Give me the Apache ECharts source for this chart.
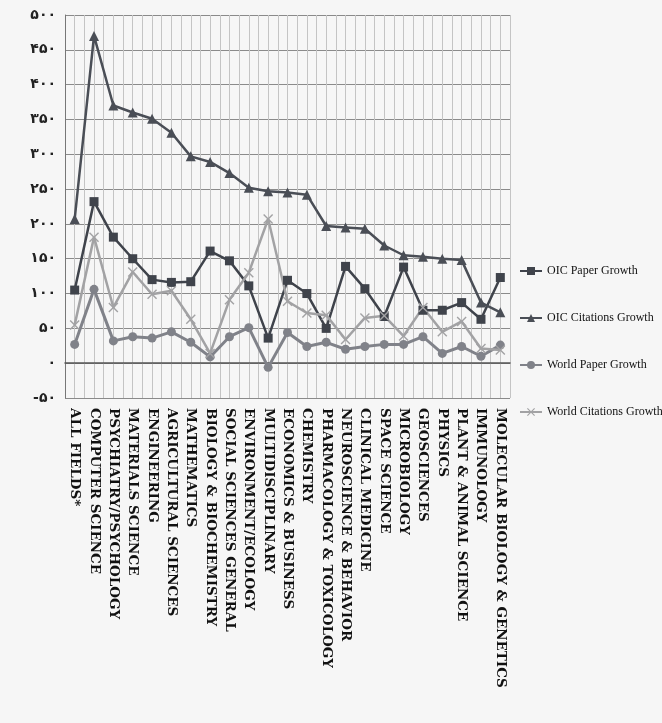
<!DOCTYPE html>
<html>
<head>
<meta charset="utf-8">
<script src="https://cdn.jsdelivr.net/npm/echarts@6/dist/echarts.min.js"></script>
<style>html,body{margin:0;padding:0;background:#f6f6f6;}#c{width:662px;height:723px;}</style>
</head>
<body>
<div id="c"></div>
<script>
const categories = ['ALL FIELDS*','COMPUTER SCIENCE','PSYCHIATRY/PSYCHOLOGY','MATERIALS SCIENCE','ENGINEERING','AGRICULTURAL SCIENCES','MATHEMATICS','BIOLOGY & BIOCHEMISTRY','SOCIAL SCIENCES GENERAL','ENVIRONMENT/ECOLOGY','MULTIDISCIPLINARY','ECONOMICS & BUSINESS','CHEMISTRY','PHARMACOLOGY & TOXICOLOGY','NEUROSCIENCE & BEHAVIOR','CLINICAL MEDICINE','SPACE SCIENCE','MICROBIOLOGY','GEOSCIENCES','PHYSICS','PLANT & ANIMAL SCIENCE','IMMUNOLOGY','MOLECULAR BIOLOGY & GENETICS'];
const oicPaperGrowth =     [105, 232, 181, 150, 120, 116, 117, 161, 147, 111, 36, 119, 100, 50, 139, 107, 67, 138, 76, 76, 87, 63, 123];
const oicCitationsGrowth = [207, 470, 370, 360, 351, 331, 297, 289, 273, 252, 247, 245, 242, 197, 195, 193, 169, 155, 153, 150, 148, 87, 73];
const worldPaperGrowth =   [27, 106, 32, 38, 36, 45, 30, 9, 38, 51, -6, 44, 24, 30, 20, 24, 27, 27, 38, 14, 24, 10, 26];
const worldCitationsGrowth = [55, 181, 80, 131, 99, 104, 63, 14, 91, 130, 207, 89, 72, 69, 34, 65, 68, 39, 80, 45, 60, 21, 19];
const seriesNames = ['OIC Paper Growth','OIC Citations Growth','World Paper Growth','World Citations Growth'];
const yTickValues = [-50, 0, 50, 100, 150, 200, 250, 300, 350, 400, 450, 500];
const yTickLabels = ['-۵۰','۰','۵۰','۱۰۰','۱۵۰','۲۰۰','۲۵۰','۳۰۰','۳۵۰','۴۰۰','۴۵۰','۵۰۰'];

const minorCats = [];
for (let i = 0; i < categories.length * 2; i++) minorCats.push('m' + i);

const xMark = 'path://M0,1L1,0L5,4L9,0L10,1L6,5L10,9L9,10L5,6L1,10L0,9L4,5Z';
const chart = echarts.init(document.getElementById('c'));
const mk = (name, data, color, symbol, size, w) => ({
  name, type: 'line', data, xAxisIndex: 0,
  symbol, symbolSize: size,
  lineStyle: { color, width: w },
  itemStyle: { color },
  emphasis: { disabled: true },
  animation: false
});
chart.setOption({
  backgroundColor: '#f6f6f6',
  animation: false,
  grid: { left: 65, right: 152, top: 15, bottom: 325, containLabel: false },
  legend: {
    orient: 'vertical', left: 514, top: 260, itemGap: 35,
    itemWidth: 22, itemHeight: 10,
    textStyle: { fontFamily: 'Liberation Serif', fontSize: 12, color: '#111' },
    data: seriesNames
  },
  xAxis: [{
    type: 'category', data: categories, boundaryGap: true,
    axisLine: { show: true, onZero: true, lineStyle: { color: '#555', width: 1.5 } },
    axisTick: { show: false },
    splitLine: { show: false },
    axisLabel: { interval: 0, rotate: -90, margin: 10, fontFamily: 'DejaVu Serif', fontWeight: 'bold', fontSize: 13.5, color: '#111' }
  }, {
    type: 'category', data: minorCats, boundaryGap: true, position: 'bottom',
    axisLine: { show: false }, axisTick: { show: false }, axisLabel: { show: false },
    splitLine: { show: true, interval: 0, lineStyle: { color: '#c4c4c4', width: 1 } }
  }],
  yAxis: {
    type: 'value', min: -50, max: 500, interval: 50,
    axisLine: { show: true, lineStyle: { color: '#777' } },
    axisTick: { show: false },
    splitLine: { show: true, lineStyle: { color: '#8a8a8a', width: 1 } },
    axisLabel: {
      margin: 9, fontFamily: 'DejaVu Sans', fontSize: 14, fontWeight: 'bold', color: '#222',
      formatter: v => yTickLabels[yTickValues.indexOf(v)]
    }
  },
  series: [
    mk(seriesNames[0], oicPaperGrowth, '#3f434b', 'rect', 9, 2.5),
    mk(seriesNames[1], oicCitationsGrowth, '#4a4e56', 'triangle', 10, 2.5),
    mk(seriesNames[2], worldPaperGrowth, '#808289', 'circle', 9, 3),
    mk(seriesNames[3], worldCitationsGrowth, '#a2a2a4', xMark, 10, 2.5)
  ]
});
</script>
</body>
</html>
